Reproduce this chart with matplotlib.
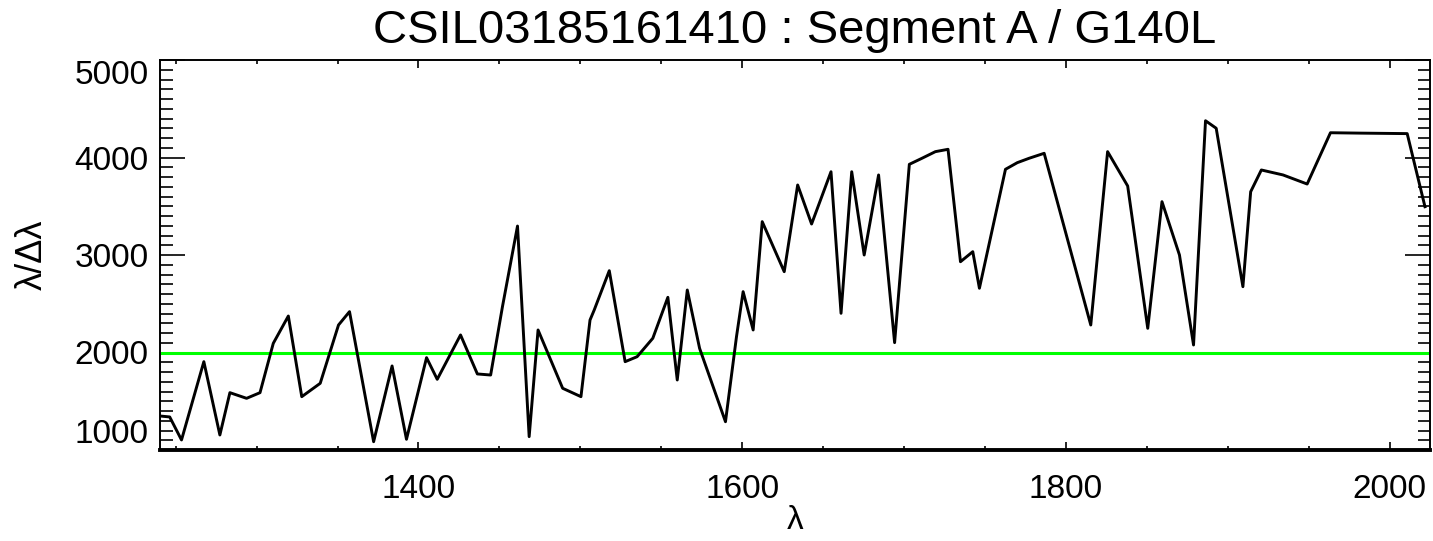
import matplotlib
matplotlib.use("Agg")
import matplotlib.pyplot as plt
from matplotlib.ticker import MultipleLocator

# ---- data ----
wavelength = [1240.1, 1246.3, 1253.6, 1267.4, 1277.3, 1283.5, 1293.8, 1302.1, 1310.3, 1319.6,
              1327.9, 1339.3, 1350.6, 1357.4, 1372.3, 1383.7, 1392.6, 1405.0, 1411.6, 1426.0,
              1436.4, 1444.6, 1451.9, 1461.2, 1468.4, 1473.9, 1489.1, 1500.4, 1506.0, 1508.6,
              1517.9, 1527.7, 1535.1, 1544.8, 1554.1, 1559.9, 1566.1, 1573.7, 1589.7, 1596.5,
              1600.6, 1606.8, 1612.4, 1626.0, 1634.3, 1642.9, 1654.9, 1661.1, 1667.7, 1675.4,
              1684.3, 1694.2, 1703.3, 1711.1, 1719.4, 1727.2, 1734.9, 1742.5, 1746.6, 1762.7,
              1770.0, 1777.3, 1786.6, 1815.4, 1825.8, 1838.2, 1850.6, 1859.4, 1870.2, 1878.9,
              1886.3, 1892.9, 1909.4, 1914.2, 1920.8, 1934.2, 1949.1, 1963.5, 1981.8, 2010.9,
              2021.9]
resolution = [1349, 1339, 1103, 1906, 1154, 1588, 1530, 1588, 2094, 2374,
              1547, 1684, 2282, 2419, 1085, 1862, 1110, 1947, 1725, 2180,
              1780, 1769, 2470, 3297, 1137, 2231, 1633, 1547, 2333, 2436,
              2839, 1906, 1957, 2146, 2566, 1718, 2641, 2043, 1290, 2162,
              2624, 2231, 3342, 2829, 3718, 3318, 3854, 2402, 3854, 3000,
              3821, 2101, 3930, 3992, 4060, 4084, 2931, 3034, 2659, 3879,
              3947, 3992, 4043, 2282, 4060, 3708, 2248, 3547, 3000, 2077,
              4377, 4300, 2675, 3649, 3872, 3821, 3728, 4254, 4250, 4245,
              3495]
threshold = 2000
title = "CSIL03185161410 : Segment A / G140L"
xlabel = "λ"
ylabel = "λ/Δλ"
xticks = [1400, 1600, 1800, 2000]
yticks = [1000, 2000, 3000, 4000, 5000]

W, H, DPI = 1433, 541, 100
fig = plt.figure(figsize=(W / DPI, H / DPI), dpi=DPI)
plt.rcParams['font.family'] = ['Liberation Sans', 'DejaVu Sans']

left, right, top, bottom = 159.5, 1430, 60, 450
ax = fig.add_axes([left / W, 1 - bottom / H, (right - left) / W, (bottom - top) / H])

ax.plot(wavelength, resolution, color='black', lw=2.1, zorder=3)
ax.axhline(threshold, color='#00ff00', lw=2.2, zorder=2)

ax.set_xlim(1240, 2025)
ax.set_ylim(1000, 5000)
ax.set_xticks(xticks)
ax.set_yticks(yticks)
ax.xaxis.set_minor_locator(MultipleLocator(50))
ax.yaxis.set_minor_locator(MultipleLocator(100))

ax.tick_params(which='both', direction='in', top=True, right=True, color='black')
ax.tick_params(axis='x', which='major', length=6, width=1.2, pad=17, labelsize=24)
ax.tick_params(axis='x', which='minor', length=3, width=1.2)
ax.tick_params(axis='y', which='major', length=18, width=1.2, pad=8, labelsize=24)
ax.tick_params(axis='y', which='minor', length=9, width=1.2)

for s in ['left', 'right', 'top']:
    ax.spines[s].set_linewidth(1.4)
ax.spines['bottom'].set_linewidth(2.8)

yt = ax.yaxis.get_major_ticks()
yt[0].label1.set_verticalalignment('bottom')
yt[-1].label1.set_verticalalignment('top')

ax.set_title(title, fontsize=34, pad=12)
ax.set_xlabel(xlabel, fontsize=24, labelpad=0)
ax.set_ylabel(ylabel, fontsize=26, labelpad=18)

fig.savefig("out.png", dpi=DPI)
